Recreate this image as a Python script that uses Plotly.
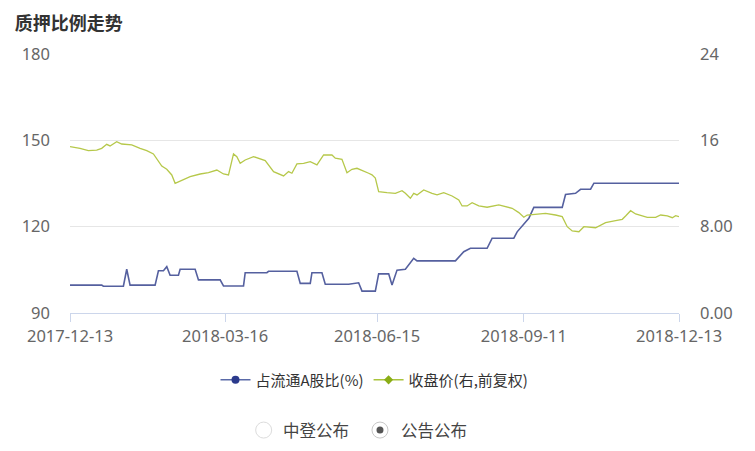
import plotly.graph_objects as go

# 质押比例走势 - 数据
ratio_dates = [
    "2017-12-13", "2018-01-01", "2018-01-02", "2018-01-14", "2018-01-16",
    "2018-01-18", "2018-02-02", "2018-02-04", "2018-02-07", "2018-02-09",
    "2018-02-11", "2018-02-16", "2018-02-17", "2018-02-26", "2018-02-28",
    "2018-03-13", "2018-03-15", "2018-03-27", "2018-03-28", "2018-04-10",
    "2018-04-11", "2018-04-28", "2018-04-30", "2018-05-06", "2018-05-07",
    "2018-05-13", "2018-05-15", "2018-05-29", "2018-06-04", "2018-06-06",
    "2018-06-14", "2018-06-16", "2018-06-22", "2018-06-24", "2018-06-27",
    "2018-07-02", "2018-07-07", "2018-07-09", "2018-08-01", "2018-08-06",
    "2018-08-10", "2018-08-20", "2018-08-23", "2018-09-05", "2018-09-07",
    "2018-09-14", "2018-09-17", "2018-10-04", "2018-10-06", "2018-10-12",
    "2018-10-15", "2018-10-21", "2018-10-23", "2018-12-13",
]
ratio_values = [
    99.7, 99.7, 99.3, 99.3, 105.2,
    99.7, 99.7, 104.7, 104.7, 106.1,
    103.1, 103.1, 105.2, 105.2, 101.5,
    101.5, 99.4, 99.4, 104.0, 104.0,
    104.5, 104.5, 100.3, 100.3, 104.0,
    104.0, 100.0, 100.0, 100.5, 97.6,
    97.6, 103.6, 103.6, 99.7, 104.9,
    105.2, 109.0, 108.1, 108.1, 111.3,
    112.5, 112.5, 116.0, 116.0, 118.2,
    122.9, 126.7, 126.7, 131.2, 131.6,
    133.0, 133.0, 135.1, 135.1,
]

price_dates = [
    "2017-12-13", "2017-12-16", "2017-12-19", "2017-12-24", "2017-12-29",
    "2018-01-01", "2018-01-04", "2018-01-06", "2018-01-10", "2018-01-13",
    "2018-01-19", "2018-01-24", "2018-01-28", "2018-02-01", "2018-02-06",
    "2018-02-09", "2018-02-12", "2018-02-14", "2018-02-18", "2018-02-23",
    "2018-03-01", "2018-03-06", "2018-03-11", "2018-03-15", "2018-03-18",
    "2018-03-21", "2018-03-23", "2018-03-25", "2018-03-28", "2018-04-02",
    "2018-04-09", "2018-04-14", "2018-04-20", "2018-04-23", "2018-04-25",
    "2018-04-28", "2018-05-02", "2018-05-06", "2018-05-10", "2018-05-14",
    "2018-05-19", "2018-05-21", "2018-05-25", "2018-05-28", "2018-05-31",
    "2018-06-03", "2018-06-10", "2018-06-12", "2018-06-14", "2018-06-16",
    "2018-06-21", "2018-06-26", "2018-06-30", "2018-07-02", "2018-07-05",
    "2018-07-07", "2018-07-09", "2018-07-13", "2018-07-18", "2018-07-21",
    "2018-07-25", "2018-07-30", "2018-08-03", "2018-08-05", "2018-08-08",
    "2018-08-11", "2018-08-15", "2018-08-20", "2018-08-27", "2018-09-04",
    "2018-09-08", "2018-09-11", "2018-09-13", "2018-09-19", "2018-09-24",
    "2018-09-30", "2018-10-04", "2018-10-07", "2018-10-10", "2018-10-14",
    "2018-10-17", "2018-10-24", "2018-10-30", "2018-11-05", "2018-11-09",
    "2018-11-11", "2018-11-14", "2018-11-17", "2018-11-21", "2018-11-24",
    "2018-11-29", "2018-12-02", "2018-12-06", "2018-12-09", "2018-12-11",
    "2018-12-13",
]
price_values = [
    15.41, 15.35, 15.26, 15.04, 15.10,
    15.26, 15.63, 15.48, 15.88, 15.66,
    15.57, 15.26, 15.04, 14.74, 13.62,
    13.32, 12.79, 12.02, 12.26, 12.63,
    12.88, 13.00, 13.25, 12.88, 12.79,
    14.74, 14.49, 13.87, 14.18, 14.49,
    14.12, 13.10, 12.70, 13.10, 12.95,
    13.81, 13.87, 14.02, 13.72, 14.64,
    14.64, 14.34, 14.24, 13.00, 13.32,
    13.41, 12.95, 12.80, 12.50, 11.24,
    11.15, 11.09, 11.33, 11.09, 10.63,
    11.09, 10.94, 11.40, 11.09, 10.94,
    11.15, 10.84, 10.47, 9.92, 9.92,
    10.22, 9.92, 9.80, 10.01, 9.70,
    9.30, 8.87, 9.08, 9.18, 9.24,
    9.08, 8.93, 8.00, 7.60, 7.53,
    8.00, 7.90, 8.37, 8.55, 8.68,
    8.99, 9.48, 9.18, 8.99, 8.87,
    8.87, 9.08, 8.99, 8.83, 9.02,
    8.93,
]

x_ticks = ["2017-12-13", "2018-03-16", "2018-06-15", "2018-09-11", "2018-12-13"]
left_ticks = [90, 120, 150, 180]
right_ticks = [0, 8, 16, 24]
right_ticktext = ["0.00", "8.00", "16", "24"]

FONT = "Noto Sans CJK SC, Noto Sans, sans-serif"
TICK_FONT = dict(family="Noto Sans, sans-serif", size=16.5, color="#666666")
BLUE = "#55609f"
GREEN = "#b6c84a"
AXIS_COLOR = "#ccd6eb"

fig = go.Figure()

fig.add_trace(go.Scatter(
    x=ratio_dates, y=ratio_values, mode="lines",
    line=dict(color=BLUE, width=1.6),
    name="占流通A股比(%)", showlegend=False,
))
fig.add_trace(go.Scatter(
    x=price_dates, y=price_values, mode="lines", yaxis="y2",
    line=dict(color=GREEN, width=1.3),
    name="收盘价(右,前复权)", showlegend=False,
))

# 图例用的空轨迹
fig.add_trace(go.Scatter(
    x=[None], y=[None], mode="lines+markers", name="占流通A股比(%)",
    line=dict(color="#5a6aa8", width=1.5),
    marker=dict(color="#2b3a8c", size=8, symbol="circle"),
))
fig.add_trace(go.Scatter(
    x=[None], y=[None], mode="lines+markers", name="收盘价(右,前复权)",
    line=dict(color="#a9c43c", width=1.5),
    marker=dict(color="#8aad16", size=7, symbol="diamond"),
))

# 单选按钮(仿)
RADIO_Y = -0.452
fig.add_shape(type="circle", xref="paper", yref="paper",
              xsizemode="pixel", ysizemode="pixel",
              xanchor=0.318, yanchor=RADIO_Y, x0=-8, x1=8, y0=-8, y1=8,
              line=dict(color="#dcdcdc", width=1), fillcolor="white")
fig.add_shape(type="circle", xref="paper", yref="paper",
              xsizemode="pixel", ysizemode="pixel",
              xanchor=0.509, yanchor=RADIO_Y, x0=-8, x1=8, y0=-8, y1=8,
              line=dict(color="#c8c8c8", width=1), fillcolor="white")
fig.add_shape(type="circle", xref="paper", yref="paper",
              xsizemode="pixel", ysizemode="pixel",
              xanchor=0.509, yanchor=RADIO_Y, x0=-3.5, x1=3.5, y0=-3.5, y1=3.5,
              line=dict(color="#555555", width=0), fillcolor="#555555")

for label, xpos in [("中登公布", 0.346), ("公告公布", 0.540)]:
    fig.add_annotation(text=label, xref="paper", yref="paper",
                       x=xpos, y=RADIO_Y, xanchor="left", yanchor="middle",
                       showarrow=False, font=dict(size=16.5, color="#444444", family=FONT))

fig.update_layout(
    width=755, height=451,
    margin=dict(l=62, r=84, t=46, b=146),
    paper_bgcolor="white", plot_bgcolor="white",
    font=dict(family=FONT, size=13, color="#666666"),
    title=dict(text="<b>质押比例走势</b>", x=0.009, xanchor="left",
               y=0.965, yanchor="middle",
               font=dict(size=18, color="#333333", family=FONT)),
    showlegend=True,
    legend=dict(orientation="h", x=0.5, xanchor="center", y=-0.259, yanchor="middle",
                font=dict(size=15, color="#333333", family=FONT),
                itemwidth=30, tracegroupgap=0),
    xaxis=dict(
        type="date", range=["2017-12-13", "2018-12-13"],
        tickvals=x_ticks, ticktext=x_ticks,
        showgrid=False, showline=True, linecolor=AXIS_COLOR, linewidth=1,
        ticks="outside", ticklen=8, tickcolor=AXIS_COLOR,
        tickfont=TICK_FONT, zeroline=False,
    ),
    yaxis=dict(
        range=[90, 180], tickvals=left_ticks,
        showgrid=True, gridcolor="#e6e6e6", gridwidth=1, zeroline=False,
        ticks="", ticklabelstandoff=19,
        tickfont=TICK_FONT,
    ),
    yaxis2=dict(
        range=[0, 24], tickvals=right_ticks, ticktext=right_ticktext,
        overlaying="y", side="right", showgrid=False, zeroline=False,
        ticks="", ticklabelstandoff=20,
        tickfont=TICK_FONT,
    ),
    hovermode="x unified",
)

fig.write_html("out.html")
